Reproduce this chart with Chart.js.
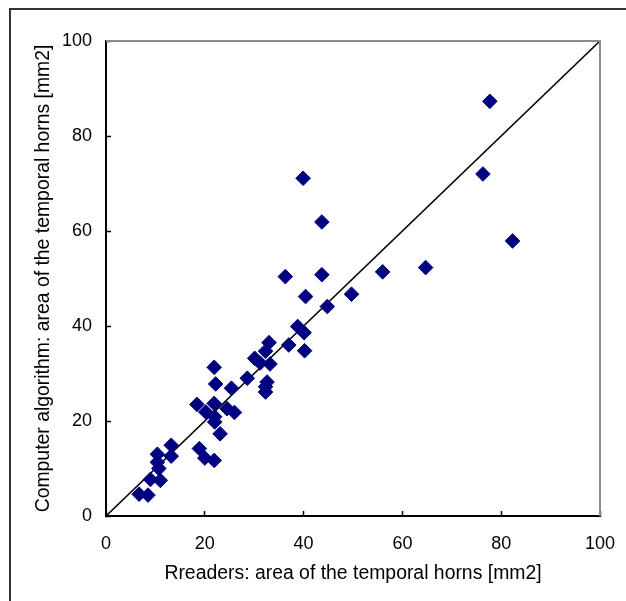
<!DOCTYPE html>
<html>
<head>
<meta charset="utf-8">
<script src="https://cdn.jsdelivr.net/npm/chart.js@4"></script>
<style>
  html, body { margin: 0; padding: 0; background: #fff; }
  #wrap { width: 626px; height: 601px; position: relative; }
</style>
</head>
<body>
<div id="wrap"><canvas id="scatter" width="626" height="601"></canvas></div>
<script>
/* ---------- Data ---------- */
const readerArea = [77.7, 76.3, 82.3, 39.9, 43.7, 36.3, 43.7, 56.0, 64.7, 40.4, 49.7, 44.8,
  38.8, 40.1, 37.0, 40.2, 33.0, 32.3, 30.1, 31.2, 33.2, 28.6, 32.6, 32.3, 32.3, 21.9, 22.2,
  25.4, 18.4, 20.2, 21.9, 24.5, 26.0, 22.0, 22.0, 23.1, 18.9, 20.0, 21.9, 13.2, 13.2, 10.4,
  10.4, 10.7, 11.0, 9.0, 6.7, 8.5];
const algorithmArea = [87.3, 72.0, 57.9, 71.1, 61.9, 50.4, 50.8, 51.4, 52.3, 46.2, 46.7, 44.1,
  39.9, 38.6, 36.0, 34.8, 36.5, 34.7, 33.2, 32.2, 32.0, 29.0, 28.2, 27.2, 26.1, 31.3, 27.8,
  26.9, 23.5, 21.9, 23.7, 22.6, 21.8, 20.9, 19.8, 17.3, 14.2, 12.2, 11.7, 14.9, 12.6, 13.0,
  11.3, 10.0, 7.5, 7.7, 4.6, 4.4];
const identityLine = [0, 100];
const axisMin = 0, axisMax = 100, axisStep = 20;

const xTitle = 'Rreaders: area of the temporal horns [mm2]';
const yTitle = 'Computer algorithm: area of the temporal horns [mm2]';

const FONT = 'Arial, "Liberation Sans", sans-serif';

/* ---------- Frame + plot box (top/right grey edges) ---------- */
const framePlugin = {
  id: 'frame',
  beforeDraw(chart){
    const c = chart.ctx;
    c.save();
    c.strokeStyle = '#333';
    c.lineWidth = 2;
    c.beginPath();
    c.moveTo(10, 601); c.lineTo(10, 9); c.lineTo(626, 9);
    c.stroke();
    c.restore();
  },
  afterDatasetsDraw(chart){
    const a = chart.chartArea, c = chart.ctx;
    c.save();
    c.strokeStyle = '#8c8c8c';
    c.lineWidth = 2;
    c.beginPath();
    c.moveTo(a.left, a.top); c.lineTo(a.right, a.top); c.lineTo(a.right, a.bottom);
    c.stroke();
    c.restore();
  }
};

const points = readerArea.map((x, i) => ({ x: x, y: algorithmArea[i] }));

new Chart(document.getElementById('scatter'), {
  type: 'scatter',
  data: {
    datasets: [
      {
        label: 'cases',
        data: points,
        pointStyle: 'rectRot',
        pointRadius: 7.3,
        pointHoverRadius: 7.3,
        backgroundColor: '#000080',
        borderColor: '#000080',
        borderWidth: 1
      },
      {
        type: 'line',
        label: 'identity',
        data: identityLine.map(v => ({ x: v, y: v })),
        borderColor: '#000',
        borderWidth: 1.6,
        pointRadius: 0,
        fill: false
      }
    ]
  },
  options: {
    responsive: false,
    animation: false,
    events: [],
    layout: { padding: { left: 0, top: 41, right: 26, bottom: 0 } },
    plugins: { legend: { display: false }, tooltip: { enabled: false } },
    scales: {
      x: {
        type: 'linear', min: axisMin, max: axisMax,
        afterFit(s){ s.height = 85; s.paddingLeft = 0; s.paddingRight = 0; },
        ticks: { stepSize: axisStep, color: '#000', padding: 22, font: { family: FONT, size: 18 } },
        grid: { drawOnChartArea: false, drawTicks: true, tickLength: -5, tickColor: '#000', tickWidth: 1.5 },
        border: { display: true, color: '#000', width: 2 },
        title: { display: true, text: xTitle, color: '#000', font: { family: FONT, size: 19.4 }, padding: { bottom: 16 } }
      },
      y: {
        type: 'linear', min: axisMin, max: axisMax,
        afterFit(s){ s.width = 106; s.paddingTop = 0; s.paddingBottom = 0; },
        ticks: { stepSize: axisStep, color: '#000', padding: 19, font: { family: FONT, size: 18 } },
        grid: { drawOnChartArea: false, drawTicks: true, tickLength: -5, tickColor: '#000', tickWidth: 1.5 },
        border: { display: true, color: '#000', width: 2 },
        title: { display: true, text: yTitle, color: '#000', font: { family: FONT, size: 19.4 }, padding: { top: 32 } }
      }
    }
  },
  plugins: [framePlugin]
});
</script>
</body>
</html>
